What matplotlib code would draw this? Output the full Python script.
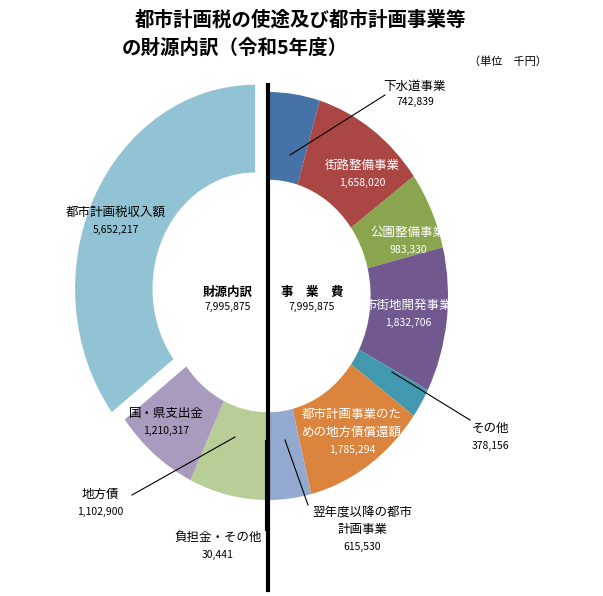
import matplotlib
matplotlib.use("Agg")
import matplotlib.pyplot as plt
from matplotlib.lines import Line2D

plt.rcParams['font.family'] = 'Noto Sans CJK JP'

exp_labels = ["下水道事業", "街路整備事業", "公園整備事業", "市街地開発事業", "その他", "都市計画事業のため の地方債償還額", "翌年度以降の都市計画事業"]
exp_values = [742839, 1658020, 983330, 1832706, 378156, 1785294, 615530]
exp_colors = ["#4572A7", "#AA4643", "#89A54E", "#71588F", "#4198AF", "#DB843D", "#93A9CF"]
rev_labels = ["負担金・その他", "地方債", "国・県支出金", "都市計画税収入額"]
rev_values = [30441, 1102900, 1210317, 5652217]
rev_colors = ["#7F9BC9", "#B9CD96", "#A99BBD", "#92C3D5"]

W, H = 603, 596
fig = plt.figure(figsize=(W/100, H/100), dpi=100)
ax = fig.add_axes([88/W, 1-500/H, 360/W, 408/H])
vals = exp_values + rev_values
cols = exp_colors + rev_colors
explode = [0]*(len(vals)-1) + [0.08]
ax.pie(vals, colors=cols, startangle=90, counterclock=False, explode=explode,
       wedgeprops=dict(width=0.43, linewidth=0))
ax.set_aspect('auto'); ax.axis('off')
ax.set_xlim(-1, 1); ax.set_ylim(-1, 1)

def t(x, y, s, size=9, **kw):
    fig.text(x/W, 1-y/H, s, fontsize=size, ha='center', va='center', **kw)

def ln(pts):
    xs = [p[0]/W for p in pts]; ys = [1-p[1]/H for p in pts]
    fig.add_artist(Line2D(xs, ys, color='black', lw=0.8))

fmt = lambda v: f"{v:,}"
t(300, 20, "都市計画税の使途及び都市計画事業等", 14, weight='bold')
t(235, 48, "の財源内訳（令和5年度）", 14, weight='bold')
t(508, 62, "（単位　千円）", 8)
fig.add_artist(Line2D([268/W]*2, [1-85/H, 1-590/H], color='black', lw=3))

t(415, 86, exp_labels[0]); t(415, 102, fmt(exp_values[0]), 7.5)
ln([(290, 155), (385, 95)])
t(362, 165, exp_labels[1], color='white'); t(362, 183, fmt(exp_values[1]), 7.5, color='white')
t(408, 232, exp_labels[2], color='white'); t(408, 250, fmt(exp_values[2]), 7.5, color='white')
t(408, 305, exp_labels[3], color='white'); t(408, 323, fmt(exp_values[3]), 7.5, color='white')
t(490, 428, exp_labels[4]); t(490, 446, fmt(exp_values[4]), 7.5)
ln([(392, 372), (470, 420)])
t(352, 414, "都市計画事業のた", color='white'); t(352, 432, "めの地方債償還額", color='white')
t(352, 450, fmt(exp_values[5]), 7.5, color='white')
t(362, 512, "翌年度以降の都市"); t(362, 530, "計画事業"); t(362, 547, fmt(exp_values[6]), 7.5)
ln([(285, 440), (308, 505)])
t(218, 537, rev_labels[0]); t(218, 555, fmt(rev_values[0]), 7.5)
ln([(265, 440), (265, 530)])
t(100, 494, rev_labels[1]); t(100, 512, fmt(rev_values[1]), 7.5)
ln([(235, 437), (132, 495)])
t(166, 413, rev_labels[2]); t(166, 431, fmt(rev_values[2]), 7.5)
t(116, 212, rev_labels[3]); t(116, 230, fmt(rev_values[3]), 7.5)
t(228, 292, "財源内訳", weight='bold'); t(228, 307, "7,995,875", 7.5)
t(312, 292, "事　業　費", weight='bold'); t(312, 307, "7,995,875", 7.5)

fig.savefig("out.png", dpi=100)
